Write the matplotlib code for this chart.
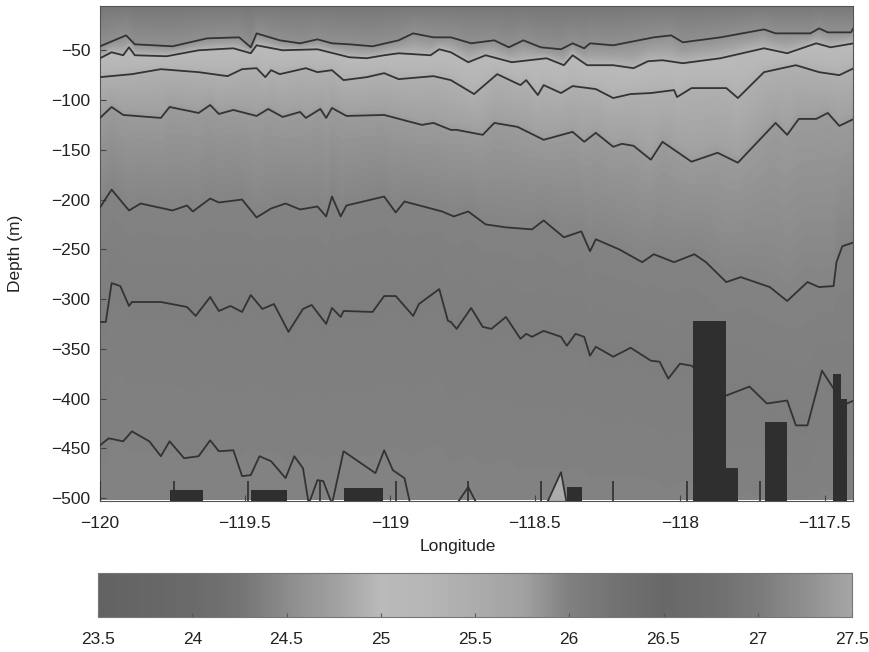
import numpy as np
import matplotlib
matplotlib.use('Agg')
import matplotlib.pyplot as plt
from matplotlib.colors import LinearSegmentedColormap
from matplotlib.ticker import FuncFormatter

plt.rcParams['font.family'] = ['Liberation Sans', 'DejaVu Sans']

# ---------------- data ----------------
# isopycnal contour lines: longitude (deg) and depth (m)
c1_lon = [-120.00, -119.91, -119.88, -119.75, -119.63, -119.52, -119.48, -119.46, -119.38, -119.31,
          -119.25, -119.20, -119.14, -119.06, -118.97, -118.92, -118.85, -118.79, -118.72, -118.64,
          -118.59, -118.54, -118.48, -118.41, -118.37, -118.33, -118.31, -118.23, -118.09, -118.03,
          -117.99, -117.86, -117.71, -117.67, -117.55, -117.52, -117.49, -117.41, -117.40]
c1_dep = [-46, -35, -44, -46, -38, -37, -47, -33, -40, -43,
          -39, -43, -44, -46, -40, -33, -37, -37, -43, -40,
          -47, -40, -47, -49, -43, -48, -43, -45, -37, -35,
          -42, -37, -29, -33, -33, -28, -32, -32, -27]

c2_lon = [-120.00, -119.96, -119.92, -119.90, -119.88, -119.77, -119.66, -119.54, -119.48, -119.46,
          -119.37, -119.25, -119.14, -119.08, -119.02, -118.97, -118.86, -118.83, -118.79, -118.73,
          -118.67, -118.58, -118.52, -118.46, -118.40, -118.37, -118.32, -118.23, -118.16, -118.11,
          -118.06, -117.99, -117.86, -117.71, -117.63, -117.53, -117.48, -117.44, -117.40]
c2_dep = [-58, -52, -55, -47, -55, -56, -50, -48, -53, -45,
          -50, -49, -57, -58, -55, -53, -55, -49, -52, -62,
          -55, -62, -60, -58, -65, -55, -65, -65, -68, -61,
          -60, -63, -58, -48, -53, -43, -47, -45, -43]

c3_lon = [-120.00, -119.89, -119.79, -119.66, -119.56, -119.51, -119.46, -119.43, -119.41, -119.38,
          -119.29, -119.25, -119.20, -119.16, -119.08, -119.02, -118.97, -118.85, -118.79, -118.71,
          -118.63, -118.55, -118.53, -118.49, -118.47, -118.41, -118.37, -118.29, -118.23, -118.17,
          -118.10, -118.02, -118.01, -117.96, -117.84, -117.80, -117.71, -117.60, -117.52, -117.45,
          -117.40]
c3_dep = [-77, -74, -69, -72, -76, -69, -68, -77, -70, -74,
          -68, -72, -70, -80, -77, -73, -79, -76, -80, -94,
          -74, -85, -80, -95, -85, -93, -86, -89, -98, -94,
          -93, -90, -97, -88, -88, -98, -72, -65, -72, -75,
          -68]

c4_lon = [-120.00, -119.96, -119.92, -119.79, -119.76, -119.66, -119.62, -119.59, -119.54, -119.46,
          -119.42, -119.37, -119.31, -119.29, -119.24, -119.22, -119.20, -119.15, -119.02, -118.89,
          -118.85, -118.79, -118.77, -118.68, -118.64, -118.56, -118.47, -118.37, -118.33, -118.29,
          -118.23, -118.20, -118.16, -118.10, -118.06, -117.96, -117.87, -117.80, -117.67, -117.63,
          -117.59, -117.53, -117.49, -117.45, -117.40]
c4_dep = [-118, -107, -115, -118, -107, -113, -105, -114, -110, -116,
          -109, -117, -112, -118, -109, -118, -108, -116, -115, -125,
          -123, -130, -130, -135, -123, -127, -140, -132, -142, -133,
          -147, -144, -146, -160, -142, -162, -153, -163, -123, -135,
          -119, -119, -113, -126, -119]

c5_lon = [-120.00, -119.96, -119.90, -119.86, -119.75, -119.70, -119.68, -119.62, -119.59, -119.51,
          -119.46, -119.41, -119.36, -119.31, -119.25, -119.22, -119.20, -119.17, -119.15, -119.02,
          -118.98, -118.95, -118.82, -118.78, -118.73, -118.67, -118.60, -118.51, -118.47, -118.40,
          -118.34, -118.31, -118.29, -118.21, -118.13, -118.09, -118.02, -117.95, -117.91, -117.84,
          -117.79, -117.69, -117.63, -117.56, -117.52, -117.47, -117.46, -117.44, -117.40]
c5_dep = [-208, -190, -211, -204, -211, -206, -212, -199, -203, -200,
          -218, -209, -204, -210, -207, -217, -197, -217, -206, -197,
          -213, -202, -212, -217, -212, -225, -228, -230, -221, -238,
          -232, -252, -240, -250, -263, -255, -263, -255, -263, -283,
          -278, -288, -302, -283, -288, -287, -263, -247, -243]

c6_lon = [-120.00, -119.98, -119.96, -119.93, -119.90, -119.89, -119.79, -119.70, -119.67, -119.62,
          -119.59, -119.55, -119.51, -119.48, -119.44, -119.40, -119.35, -119.30, -119.27, -119.22,
          -119.20, -119.17, -119.16, -119.06, -119.02, -118.98, -118.92, -118.90, -118.83, -118.80,
          -118.79, -118.77, -118.72, -118.68, -118.65, -118.60, -118.55, -118.53, -118.51, -118.47,
          -118.41, -118.39, -118.36, -118.33, -118.31, -118.29, -118.23, -118.17, -118.10, -118.07,
          -118.04, -118.00, -117.96, -117.84, -117.76, -117.70, -117.63, -117.60, -117.56, -117.51,
          -117.47, -117.44, -117.40]
c6_dep = [-323, -323, -284, -287, -307, -303, -303, -308, -317, -298,
          -312, -307, -313, -296, -310, -305, -333, -310, -306, -325,
          -309, -318, -312, -313, -297, -297, -317, -305, -290, -322,
          -323, -330, -309, -328, -330, -318, -340, -335, -338, -332,
          -338, -347, -335, -338, -357, -348, -358, -349, -362, -363,
          -380, -365, -367, -397, -388, -405, -402, -427, -427, -372,
          -390, -407, -402]

c7_lon = [-120.00, -119.97, -119.92, -119.89, -119.83, -119.79, -119.76, -119.71, -119.66, -119.62,
          -119.59, -119.54, -119.51, -119.48, -119.45, -119.41, -119.36, -119.33, -119.30, -119.28,
          -119.25, -119.23, -119.20, -119.16, -119.10, -119.05, -119.02, -118.99, -118.95, -118.93]
c7_dep = [-447, -440, -443, -433, -443, -458, -443, -460, -458, -442,
          -453, -452, -478, -477, -458, -463, -480, -458, -470, -506,
          -482, -483, -506, -453, -465, -475, -452, -472, -480, -506]
c7b_lon = [-118.77, -118.73, -118.70]
c7b_dep = [-506, -489, -506]
c7c_lon = [-118.46, -118.41, -118.39]
c7c_dep = [-506, -474, -506]

# density assigned to each level (surface, lines 1-6, bottom)
surface_density = 24.25
line_density = [24.55, 24.95, 25.4, 25.8, 25.97, 26.02]
bottom_density = 25.95

# bathymetry blocks: left lon, right lon, top depth
bar_left = [-119.76, -119.48, -119.16, -118.39, -117.955, -117.841, -117.707, -117.472, -117.445]
bar_right = [-119.645, -119.355, -119.024, -118.338, -117.841, -117.800, -117.631, -117.445, -117.424]
bar_top = [-492, -492, -490, -489, -322, -470, -424, -375, -400]

# station markers (longitude)
station_lon = [-120.0, -119.745, -119.49, -119.24, -118.98, -118.73, -118.48, -118.23, -117.975, -117.725]

# colorbar
cbar_ticks = [23.5, 24, 24.5, 25, 25.5, 26, 26.5, 27, 27.5]

# ---------------- styling ----------------
cm_vals = [23.5, 23.75, 24.0, 24.25, 24.5, 24.75, 25.0, 25.25, 25.5, 25.75, 26.0, 26.25, 26.5, 26.75, 27.0, 27.25, 27.5]
cm_gray = [98, 102, 106, 116, 140, 160, 186, 182, 172, 162, 128, 114, 104, 110, 122, 142, 165]
vmin, vmax = 23.5, 27.5
cmap = LinearSegmentedColormap.from_list(
    'grays', [((v - vmin) / (vmax - vmin), (g / 255, g / 255, g / 255)) for v, g in zip(cm_vals, cm_gray)])

xmin, xmax = -120.0, -117.403
ytop, ybot = -5.5, -502.5

fig = plt.figure(figsize=(8.7, 6.52), dpi=100)
ax = fig.add_axes([100 / 870, 1 - 500.5 / 652, 753 / 870, 494.5 / 652])

# background density field built from the isopycnal depths
glon = np.linspace(xmin, xmax, 600)
gdep = np.linspace(-ytop, -ybot, 500)  # positive downward
lines = [(c1_lon, c1_dep), (c2_lon, c2_dep), (c3_lon, c3_dep), (c4_lon, c4_dep), (c5_lon, c5_dep), (c6_lon, c6_dep)]
field = np.zeros((gdep.size, glon.size))
depth_knots = [np.full(glon.size, 0.0)] + [-np.interp(glon, lo, de) for lo, de in lines] + [np.full(glon.size, 600.0)]
val_knots = [surface_density] + line_density + [bottom_density]
for j in range(glon.size):
    field[:, j] = np.interp(gdep, [d[j] for d in depth_knots], val_knots)

im = ax.imshow(field, extent=[xmin, xmax, ybot, ytop], origin='upper', aspect='auto',
               cmap=cmap, vmin=vmin, vmax=vmax, interpolation='bilinear', zorder=1)

lc = '#333333'
for lo, de in lines + [(c7_lon, c7_dep), (c7b_lon, c7b_dep), (c7c_lon, c7c_dep)]:
    ax.plot(lo, de, color=lc, lw=1.3, zorder=3)
ax.fill(c7c_lon, c7c_dep, color=cmap((25.5 - vmin) / (vmax - vmin)), zorder=2)

ax.vlines(station_lon, ybot, -483, color='#2e2e2e', lw=1.2, zorder=4)
for l, r, t in zip(bar_left, bar_right, bar_top):
    ax.bar(l, t - ybot, width=r - l, bottom=ybot, align='edge', color='#2f2f2f', edgecolor='none', zorder=5)

ax.set_xlim(xmin, xmax)
ax.set_ylim(ybot, ytop)
ax.set_xticks([-120, -119.5, -119, -118.5, -118, -117.5])
ax.set_yticks(np.arange(-500, -49, 50))
fmt = FuncFormatter(lambda v, p: ('%g' % v).replace('-', '\u2212'))
ax.xaxis.set_major_formatter(fmt)
ax.yaxis.set_major_formatter(fmt)
ax.tick_params(axis='both', direction='in', length=4, color='#444444', labelsize=12.5, labelcolor='#222222')
ax.tick_params(axis='x', pad=11)
ax.tick_params(axis='y', pad=7)
for s in ax.spines.values():
    s.set_color('#555555')
    s.set_linewidth(0.8)
ax.set_xlabel('Longitude', fontsize=12.5, color='#222222')
ax.set_ylabel('Depth (m)', fontsize=12.5, color='#222222')
ax.xaxis.set_label_coords(0.475, -0.078)
ax.yaxis.set_label_coords(-0.102, 0.5)

cax = fig.add_axes([98 / 870, 1 - 617 / 652, 754 / 870, 44 / 652])
cb = fig.colorbar(im, cax=cax, orientation='horizontal')
cb.set_ticks(cbar_ticks)
cb.ax.xaxis.set_major_formatter(FuncFormatter(lambda v, p: '%g' % v))
cb.ax.tick_params(direction='in', length=3, color='#555555', pad=11, labelsize=12.5, labelcolor='#222222')
cb.outline.set_edgecolor('#777777')
cb.outline.set_linewidth(0.8)

fig.savefig('out.png', dpi=100)
